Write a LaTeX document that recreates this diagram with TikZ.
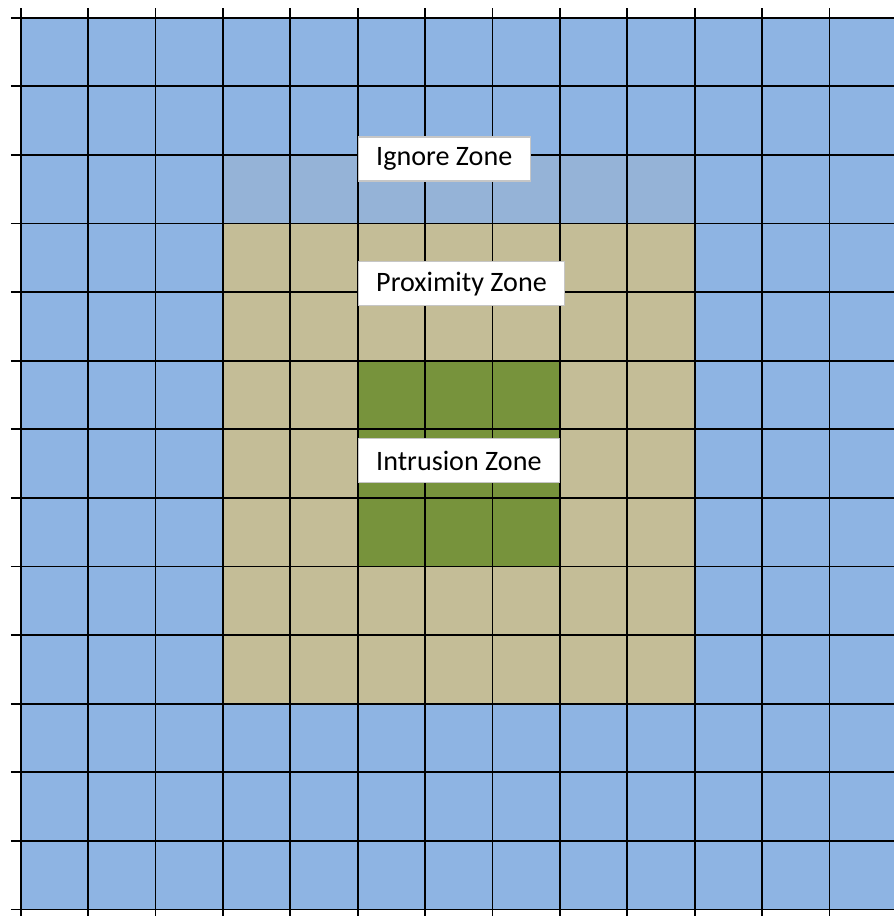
\documentclass[tikz,border=0pt]{standalone}
\usepackage{fontspec}
\setmainfont{Carlito}
\usepackage{xcolor}
\usepackage{tikz}

\definecolor{skyblue}{HTML}{8EB4E3}
\definecolor{ignoreblue}{HTML}{95B3D7}
\definecolor{sand}{HTML}{C4BD97}
\definecolor{grass}{HTML}{77933C}

\begin{document}
\begin{tikzpicture}[
    x=1.348cm, y=-1.372cm,
    gridline/.style={line width=1pt, black},
    zonelbl/.style={draw=gray!45, fill=white, line width=0.6pt, anchor=west,
                    inner xsep=0.36cm, minimum height=0.88cm,
                    font=\fontsize{16}{19}\selectfont},
]
\useasboundingbox (-0.307,-0.258) rectangle (12.957,13.095);

% --- Zones ---
\fill[skyblue] (0,0) rectangle (12.957,13);
\fill[ignoreblue] (3,2) rectangle (10,3);
\fill[sand] (3,3) rectangle (10,10);
\fill[grass] (5,5) rectangle (8,8);

% --- Grid ---
\foreach \i in {0,...,12}
    \draw[gridline] (\i,-0.14) -- (\i,13.095);
\foreach \j in {0,...,13}
    \draw[gridline] (-0.144,\j) -- (12.957,\j);

% --- Labels ---
\node[zonelbl] (ignore) at (5,2.06) {Ignore Zone};
\node[zonelbl] (proximity) at (5,3.88) {Proximity Zone};
\node[zonelbl] (intrusion) at (5,6.455) {Intrusion Zone};

\end{tikzpicture}
\end{document}
